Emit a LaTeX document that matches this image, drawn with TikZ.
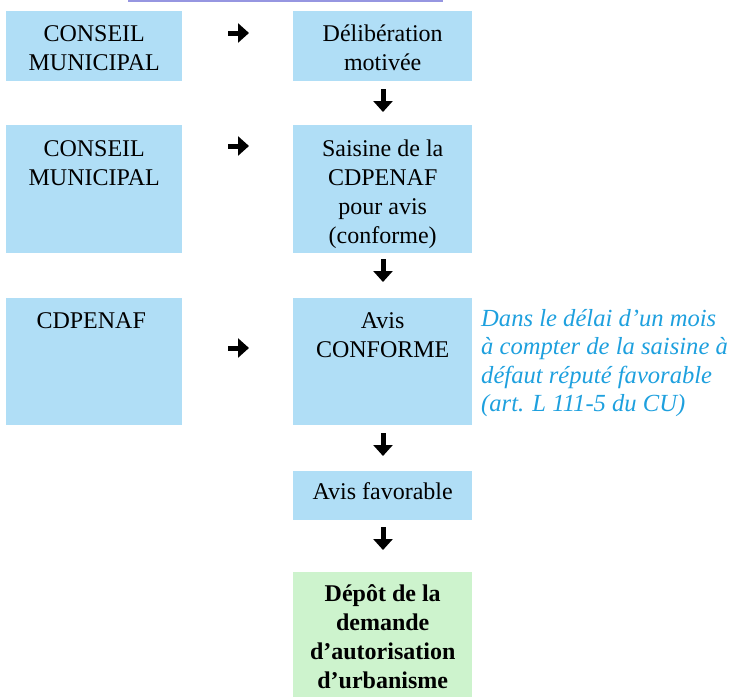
\documentclass[tikz,border=0pt]{standalone}
\usepackage{fontspec}
\setmainfont{Liberation Serif}
\usetikzlibrary{arrows.meta,calc}
\definecolor{boxblue}{RGB}{176,222,246}
\definecolor{boxgreen}{RGB}{205,243,205}
\definecolor{notecol}{RGB}{30,160,222}
\definecolor{ulcol}{RGB}{150,150,225}
\tikzset{
  box/.style={fill=boxblue,draw=none,inner sep=0pt,anchor=north west},
  gbox/.style={fill=boxgreen,draw=none,inner sep=0pt,anchor=north west},
  txt/.style={anchor=north,inner sep=0pt,align=center,font=\fontsize{24}{29}\selectfont},
  btxt/.style={txt,font=\fontsize{24}{29}\selectfont\bfseries},
  note/.style={anchor=north west,inner sep=0pt,align=left,text=notecol,font=\fontsize{24.6}{28.5}\selectfont\itshape},
  harr/.style={line width=5pt,-{Triangle[length=11pt,width=19pt]}},
}
\begin{document}
\begin{tikzpicture}[x=1pt,y=-1pt]
\useasboundingbox (0,0) rectangle (735,697);
% partial title underline
\coordinate (ul1) at (128,1);
\coordinate (ul2) at (443,1);
\draw[ulcol,line width=1.2pt] (ul1) -- (ul2);
% boxes
\node[box,minimum width=176pt,minimum height=70pt] (L1) at (6,11) {};
\node[box,minimum width=179pt,minimum height=70pt] (R1) at (293,11) {};
\node[box,minimum width=176pt,minimum height=128pt] (L2) at (6,125) {};
\node[box,minimum width=179pt,minimum height=128pt] (R2) at (293,125) {};
\node[box,minimum width=176pt,minimum height=127pt] (L3) at (6,298) {};
\node[box,minimum width=179pt,minimum height=127pt] (R3) at (293,298) {};
\node[box,minimum width=179pt,minimum height=49pt] (R4) at (293,471) {};
\node[gbox,minimum width=179pt,minimum height=125pt] (R5) at (293,572) {};
% texts
\node[txt] (tL1) at ($(L1.north)+(0,9.5)$) {\strut CONSEIL\\MUNICIPAL};
\node[txt] (tR1) at ($(R1.north)+(0,9.5)$) {\strut Délibération\\motivée};
\node[txt] (tL2) at ($(L2.north)+(0,10.5)$) {\strut CONSEIL\\MUNICIPAL};
\node[txt] (tR2) at ($(R2.north)+(0,10.5)$) {\strut Saisine de la\\CDPENAF\\pour avis\\(conforme)};
\node[txt] (tL3) at ($(L3.north)+(-3,9.5)$) {\strut CDPENAF};
\node[txt] (tR3) at ($(R3.north)+(0,9.5)$) {\strut Avis\\CONFORME};
\node[txt] (tR4) at ($(R4.north)+(0,7.5)$) {\strut Avis favorable};
\node[btxt] (tR5) at ($(R5.north)+(0,8.5)$) {\strut Dépôt de la\\demande\\d’autorisation\\d’urbanisme};
\node[note] (nt) at (481,306) {\strut Dans le délai d’un mois\\à compter de la saisine à\\défaut réputé favorable\\(art. L 111-5 du CU)};
% horizontal arrows
\coordinate (h1a) at (228,33);  \coordinate (h1b) at (249,33);
\coordinate (h2a) at (228,146); \coordinate (h2b) at (249,146);
\coordinate (h3a) at (228,348); \coordinate (h3b) at (249,348);
\draw[harr] (h1a) -- (h1b);
\draw[harr] (h2a) -- (h2b);
\draw[harr] (h3a) -- (h3b);
% vertical arrows
\coordinate (v1a) at (383,89);  \coordinate (v1b) at (383,112);
\coordinate (v2a) at (383,259); \coordinate (v2b) at (383,282);
\coordinate (v3a) at (383,433); \coordinate (v3b) at (383,456);
\coordinate (v4a) at (383,527); \coordinate (v4b) at (383,550);
\draw[harr] (v1a) -- (v1b);
\draw[harr] (v2a) -- (v2b);
\draw[harr] (v3a) -- (v3b);
\draw[harr] (v4a) -- (v4b);
\end{tikzpicture}
\end{document}
